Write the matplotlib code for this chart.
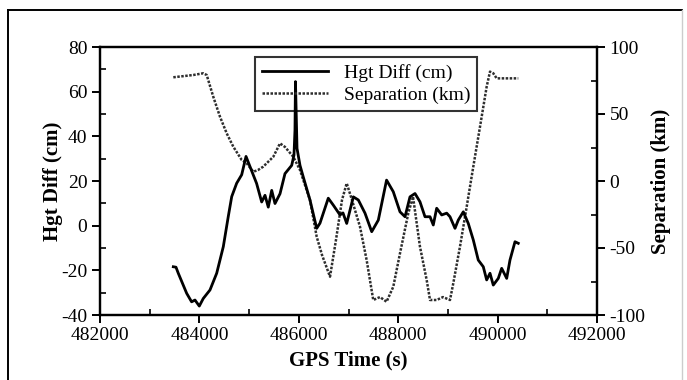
import matplotlib
matplotlib.use("Agg")
import matplotlib.pyplot as plt
from matplotlib.lines import Line2D
from matplotlib.ticker import MultipleLocator

plt.rcParams['font.family'] = ['Liberation Serif', 'DejaVu Serif']
plt.rcParams['axes.unicode_minus'] = False

# Hgt Diff (cm) vs GPS time (s)
hgt_t = [483475, 483529, 483575, 483744, 483843, 483911, 483998, 484078, 484213, 484348,
         484481, 484581, 484650, 484750, 484851, 484938, 485151, 485253, 485320, 485386,
         485455, 485521, 485622, 485722, 485857, 485903, 485923, 485933, 485964, 486024,
         486090, 486225, 486360, 486426, 486593, 486694, 486829, 486889, 486964, 487097,
         487198, 487332, 487467, 487600, 487766, 487901, 488036, 488137, 488237, 488338,
         488438, 488539, 488640, 488706, 488774, 488875, 488976, 489042, 489143, 489209,
         489310, 489410, 489511, 489611, 489712, 489780, 489847, 489913, 490014, 490082,
         490183, 490249, 490350, 490416]
hgt_cm = [-18.4, -18.6, -21.3, -30.3, -34.1, -33.3, -36.0, -32.6, -28.8, -21.3,
          -9.4, 4.1, 13.0, 19.0, 22.8, 31.0, 18.9, 10.6, 13.6, 8.3,
          15.8, 9.9, 14.3, 23.3, 27.0, 31.6, 42.8, 64.5, 34.6, 27.0,
          21.8, 11.5, -1.2, 1.1, 12.3, 9.2, 4.8, 5.7, 1.0, 12.9,
          11.5, 5.6, -2.7, 2.5, 20.4, 15.2, 6.2, 4.0, 12.9, 14.4,
          10.7, 4.0, 4.0, 0.3, 7.8, 4.8, 5.6, 4.0, -1.2, 2.5,
          6.2, 1.0, -6.4, -15.4, -18.4, -24.3, -21.3, -26.6, -23.6, -19.1,
          -23.6, -15.4, -7.2, -7.9]

# Separation (km) vs GPS time (s)
sep_t = [483475, 483877, 484078, 484147, 484279, 484414, 484549, 484682, 484851, 484952,
         485084, 485179, 485284, 485487, 485622, 485722, 485889, 486024, 486225, 486360,
         486467, 486628, 486748, 486869, 486964, 487070, 487231, 487365, 487498, 487634,
         487766, 487901, 488036, 488203, 488298, 488438, 488573, 488640, 488774, 488901,
         489042, 489108, 489243, 489378, 489511, 489646, 489780, 489847, 489913, 489981,
         490416]
sep_km = [77.4, 79.1, 80.4, 79.1, 62.9, 48.0, 35.6, 25.6, 15.7, 13.2,
          6.9, 8.2, 10.7, 18.1, 28.1, 25.4, 18.1, 8.2, -14.2, -41.6,
          -55.2, -71.4, -44.0, -14.2, -1.7, -14.2, -34.1, -59.0, -88.8, -86.6,
          -90.1, -78.9, -54.0, -24.1, -11.7, -49.0, -73.9, -88.8, -88.8, -86.6,
          -88.8, -76.4, -49.0, -19.2, 10.7, 40.5, 70.4, 81.6, 80.4, 76.6,
          76.6]

fig = plt.figure(figsize=(6.87, 3.8), dpi=100)
ax = fig.add_axes([100/687, 1 - 315/380, 497/687, 268/380])
ax2 = ax.twinx()

l1, = ax.plot(hgt_t, hgt_cm, color='black', lw=2.0, solid_joinstyle='round')
l2, = ax2.plot(sep_t, sep_km, color='#2e2e2e', lw=1.8, dashes=(1.0, 0.6))

ax.set_xlim(482000, 492000)
ax.set_ylim(-40, 80)
ax2.set_ylim(-100, 100)

ax.xaxis.set_major_locator(MultipleLocator(2000))
ax.xaxis.set_minor_locator(MultipleLocator(1000))
ax.yaxis.set_major_locator(MultipleLocator(20))
ax.yaxis.set_minor_locator(MultipleLocator(10))
ax2.yaxis.set_major_locator(MultipleLocator(50))
ax2.yaxis.set_minor_locator(MultipleLocator(25))

for a in (ax, ax2):
    for s in a.spines.values():
        s.set_linewidth(1.6)
    a.tick_params(which='major', direction='out', length=6, width=1.4, labelsize=14, pad=3)
    a.tick_params(which='minor', direction='in', length=4, width=1.2)
ax.tick_params(axis='x', which='both', top=False)

ax.set_xlabel('GPS Time (s)', fontsize=15, fontweight='bold', labelpad=4)
ax.set_ylabel('Hgt Diff (cm)', fontsize=15, fontweight='bold', labelpad=-1)
ax2.set_ylabel('Separation (km)', fontsize=15, fontweight='bold', labelpad=4)

leg = ax.legend([l1, l2], ['Hgt Diff (cm)', 'Separation (km)'], loc='upper left',
                bbox_to_anchor=(0.312, 0.963), borderaxespad=0, fontsize=14,
                handlelength=3.4, fancybox=False, edgecolor='black',
                borderpad=0.35, labelspacing=0.25, handletextpad=0.8)
leg.get_frame().set_linewidth(1.5)
leg.get_frame().set_facecolor('none')
ax.set_zorder(ax2.get_zorder() + 1)
ax.patch.set_visible(False)

# outer frame of the scanned figure
fig.add_artist(Line2D([8/687, 8/687], [0, 1 - 10/380], transform=fig.transFigure, color='black', lw=1.4))
fig.add_artist(Line2D([8/687, 682/687], [1 - 10/380, 1 - 10/380], transform=fig.transFigure, color='black', lw=1.4))
fig.add_artist(Line2D([682/687, 682/687], [0, 1 - 10/380], transform=fig.transFigure, color='#cccccc', lw=1.0))

fig.savefig('out.png', dpi=100)
